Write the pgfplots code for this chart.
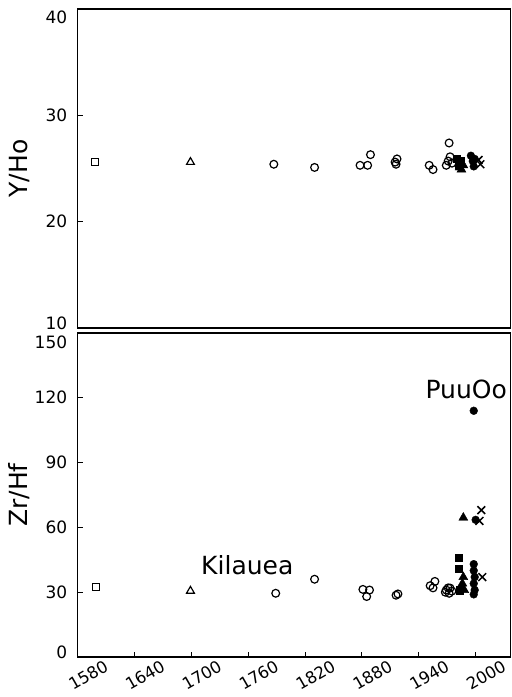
\documentclass[border=0pt]{standalone}
\usepackage{fontspec}
\setmainfont{DejaVu Sans}
\usepackage{pgfplots}
\pgfplotsset{compat=1.18}
\newcommand{\up}[2]{\raisebox{#1}[\height][\depth]{#2}}
\begin{document}
\begin{tikzpicture}
\pgfplotsset{
  panel/.style={
    scale only axis, width=433pt,
    xmin=1580, xmax=2037,
    axis line style={line width=1.2pt},
    every tick/.style={line width=1pt, black},
    tick align=inside, major tick length=5pt,
    xtick pos=bottom, ytick pos=left,
    tick label style={font=\fontsize{17}{17}\selectfont},
    yticklabel style={xshift=-7pt},
    /pgf/number format/assume math mode=true,
    every axis y label/.style={at={(axis description cs:-0.135,0.5)},rotate=90,anchor=center,font=\fontsize{25}{25}\selectfont},
    clip=false,
  },
  oc/.style={only marks, mark=o, mark size=3.9pt, mark options={line width=1.2pt, black, fill=white}},
  os/.style={only marks, mark=square, mark size=3.5pt, mark options={line width=1.2pt, black}},
  ot/.style={only marks, mark=triangle, mark size=4.5pt, mark options={line width=1.2pt, black}},
  fc/.style={only marks, mark=*, mark size=3.9pt, mark options={black}},
  fs/.style={only marks, mark=square*, mark size=3.7pt, mark options={black}},
  ft/.style={only marks, mark=triangle*, mark size=5.2pt, mark options={black}},
  fx/.style={only marks, mark=x, mark size=5.5pt, mark options={line width=1.5pt, black}},
}
% ---------- bottom panel: Zr/Hf ----------
\begin{axis}[panel, at={(0,0)}, anchor=south west, height=324pt,
  ymin=0, ymax=150, ytick={0,30,60,90,120,150},
  yticklabels={\up{5pt}{0},30,60,90,120,\up{-9pt}{150}},
  xtick={1580,1640,...,2000},
  xticklabels={1580,1640,1700,1760,1820,1880,1940,2000},
  xticklabel style={rotate=30, anchor=center, yshift=-21pt, font=\fontsize{16.5}{16.5}\selectfont},
  ylabel={Zr/Hf}]
\addplot[os] coordinates {(1599,32.3)};
\addplot[ot] coordinates {(1699,30.6)};
\addplot[oc] coordinates {
(1789,29.5) (1830,36) (1881,31.3) (1888,31) (1885,28) (1916,28.6) (1918,29.2)
(1952,33) (1955,32) (1957,35) (1968,30) (1969,31) (1971,32) (1973,31.9) (1975,30.5) (1972,29.5)};
\addplot[fs] coordinates {(1982,46) (1982,41) (1983,31)};
\addplot[ft] coordinates {(1987,64.5) (1987,37) (1986,34) (1988,31)};
\addplot[fc] coordinates {(1998,114) (2000,63.5) (1998,43) (1998,40) (1999,37) (1998,34) (1999,31) (1998,29)};
\addplot[fx] coordinates {(2006,68) (2004,63) (2007,37)};
\node[font=\fontsize{25}{25}\selectfont] at (axis cs:1990,124) {PuuOo};
\node[font=\fontsize{25}{25}\selectfont] at (axis cs:1759,42.5) {Kilauea};
\end{axis}
% ---------- top panel: Y/Ho ----------
\begin{axis}[panel, at={(0,329pt)}, anchor=south west, height=319pt,
  ymin=10, ymax=40, ytick={10,20,30,40},
  yticklabels={\up{5pt}{10},20,30,\up{-8pt}{40}},
  xtick=\empty,
  ylabel={Y/Ho}]
\addplot[os] coordinates {(1598,25.6)};
\addplot[ot] coordinates {(1699,25.6)};
\addplot[oc] coordinates {
(1787,25.4) (1830,25.1) (1878,25.3) (1886,25.3) (1889,26.3) (1915,25.6) (1917,25.9) (1916,25.4)
(1951,25.3) (1955,24.9) (1969,25.3) (1971,25.7) (1972,27.4) (1973,26.1) (1975,25.5)};
\addplot[fs] coordinates {(1980,25.9) (1982,25.4) (1984,25.7)};
\addplot[ft] coordinates {(1985,24.9) (1987,25.3) (1983,25.1)};
\addplot[fc] coordinates {(1995,26.2) (1997,25.7) (1998,25.2) (1999,25.9)};
\addplot[fx] coordinates {(2003,25.8) (2005,25.4)};
\end{axis}
\pgfresetboundingbox
\path[use as bounding box] (-77.7pt,-40pt) rectangle (434.3pt,657pt);
\end{tikzpicture}
\end{document}
